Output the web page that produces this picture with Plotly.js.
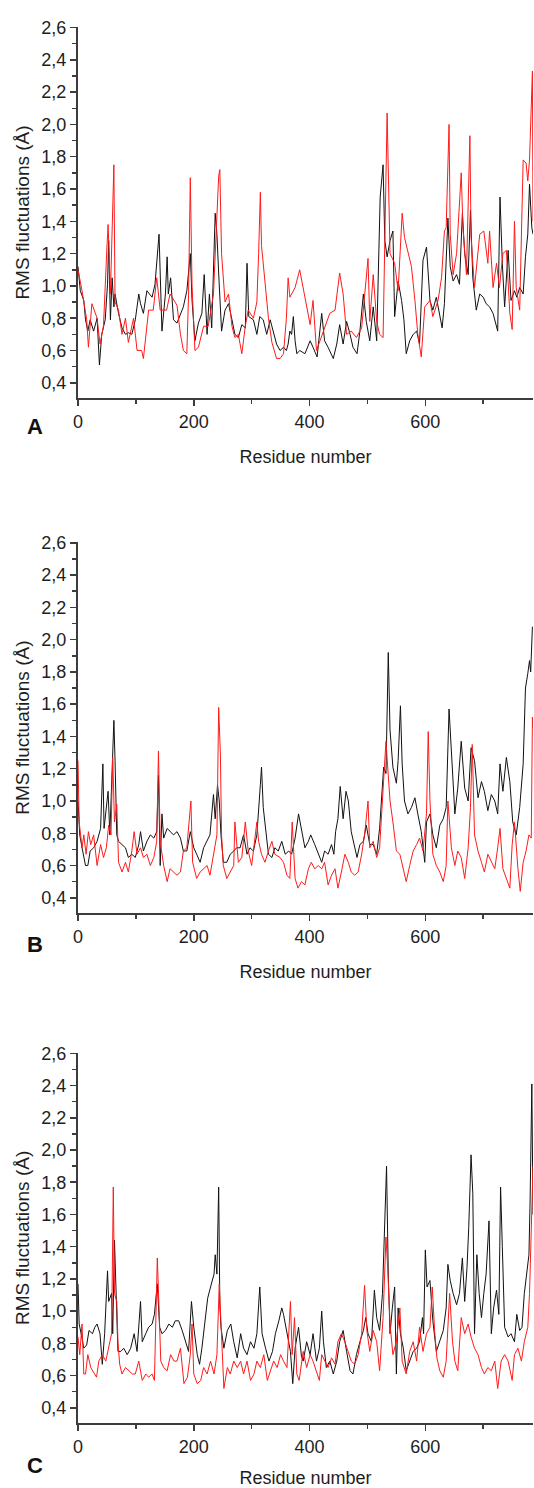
<!DOCTYPE html>
<html>
<head>
<meta charset="utf-8">
<script src="https://cdn.plot.ly/plotly-3.0.1.min.js"></script>
<style>html,body{margin:0;padding:0;background:#ffffff;}#chart{width:534px;height:1488px;}</style>
</head>
<body>
<div id="chart"></div>
<script>
// ---------- DATA ----------
const panelLabels = ['A', 'B', 'C'];
const xAxisTitle = 'Residue number';
const yAxisTitle = 'RMS fluctuations (Å)';

// Panel A
const aBlackX = [0,4,10,13,17,21,27,33,37,41,47,51,53,56,59,62,64,70,76,82,87,93,99,105,108,113,119,128,133,136,140,145,151,154,156,160,165,171,177,182,188,194,197,202,208,214,218,223,227,231,237,240,243,246,248,254,260,266,271,277,283,289,292,295,303,309,314,320,326,332,338,343,349,355,360,363,366,369,372,375,378,383,392,401,406,413,421,426,432,441,447,452,458,464,470,475,482,487,493,498,504,510,516,522,527,530,534,539,544,547,553,559,563,567,573,579,585,590,596,602,608,613,619,625,629,633,639,643,648,654,659,664,668,674,678,682,688,694,700,705,711,717,723,725,729,733,737,743,748,754,758,763,769,773,777,780,784,786];
const aBlackY = [1.12,0.97,0.91,0.79,0.72,0.79,0.72,0.80,0.51,0.70,0.79,1.01,1.28,0.79,1.05,0.87,0.95,0.83,0.74,0.70,0.71,0.70,0.79,0.95,0.89,0.83,0.97,0.93,1.01,1.16,1.32,0.72,0.95,1.18,0.95,1.05,0.79,0.77,0.83,0.87,0.97,1.20,0.91,0.66,0.77,0.83,1.07,0.70,0.95,0.74,1.45,1.32,1.08,0.87,0.72,0.85,0.89,0.79,0.70,0.68,0.76,0.74,1.14,0.81,0.79,0.70,0.81,0.79,0.70,0.79,0.70,0.64,0.60,0.62,0.60,0.64,0.72,0.70,0.81,0.66,0.58,0.60,0.58,0.66,0.62,0.56,0.83,0.66,0.62,0.55,0.64,0.76,0.64,0.78,0.70,0.62,0.58,0.72,0.95,0.78,0.66,0.87,0.66,1.55,1.75,1.28,1.18,1.28,1.34,0.81,1.03,0.91,0.79,0.58,0.66,0.70,0.72,0.64,1.16,1.24,0.91,0.85,0.93,0.81,0.74,0.89,1.42,1.12,1.03,1.07,1.01,1.45,1.20,1.07,1.47,1.05,0.85,0.95,0.93,0.89,0.87,0.83,0.74,0.72,1.55,1.14,0.87,1.22,0.91,0.97,0.93,0.99,0.95,1.18,1.32,1.63,1.36,1.32];
const aRedX = [0,7,15,18,24,33,38,44,50,52,56,62,64,70,76,82,87,96,102,110,113,122,130,136,142,153,159,171,177,182,188,191,194,197,202,208,217,225,234,240,243,245,248,254,260,266,271,277,283,289,294,303,309,312,315,317,323,329,335,343,349,355,360,363,366,375,383,389,395,401,406,412,424,435,444,449,452,458,464,472,481,490,501,504,510,516,521,527,534,539,547,553,560,564,570,576,582,587,593,599,608,613,622,628,633,636,641,643,648,654,662,665,671,677,679,685,694,701,708,711,717,723,728,734,740,746,750,754,757,763,769,774,777,780,785,786];
const aRedY = [1.10,0.97,0.79,0.62,0.89,0.80,0.64,0.75,1.24,1.38,0.95,1.75,0.90,0.85,0.70,0.80,0.65,0.80,0.60,0.60,0.55,0.85,0.85,1.05,0.85,0.85,0.95,0.88,0.70,0.60,0.58,0.95,1.67,1.00,0.60,0.62,0.75,0.75,0.95,1.50,1.68,1.72,1.20,0.90,0.95,0.75,0.68,0.70,0.58,0.75,0.85,0.80,0.90,1.20,1.58,1.25,1.00,0.80,0.65,0.55,0.55,0.58,0.80,1.05,0.93,0.99,1.10,0.99,0.87,0.76,0.91,0.60,0.72,0.83,0.85,0.99,1.08,0.95,0.70,0.72,0.68,0.74,1.17,0.78,1.07,0.78,0.70,0.68,2.07,1.20,1.14,0.97,1.45,1.30,1.20,1.12,0.91,0.70,0.56,0.87,0.91,0.81,0.91,1.05,1.34,1.36,2.00,1.32,1.07,1.20,1.70,1.36,1.07,1.93,1.30,0.99,1.32,1.34,1.14,1.34,0.99,1.14,0.99,1.20,1.22,0.83,0.73,1.40,0.99,0.85,1.78,1.76,1.65,1.78,2.33,1.40];

// Panel B
const bBlackX = [0,3,7,13,17,21,27,33,39,43,45,49,52,55,58,62,64,67,70,76,82,87,93,99,105,108,113,119,125,131,136,139,142,145,148,154,159,165,171,177,182,188,194,200,205,211,217,223,228,234,237,241,244,247,251,257,263,269,274,280,286,292,297,303,309,315,317,320,323,329,335,340,346,352,358,364,369,375,381,386,392,398,402,409,415,421,426,432,438,442,445,449,453,458,463,467,472,478,482,487,493,498,504,510,516,521,525,528,532,534,536,539,544,550,553,557,560,564,570,576,582,587,593,599,602,608,613,619,625,631,636,641,645,651,656,662,668,674,679,685,691,697,702,708,714,720,725,729,734,740,746,751,757,763,769,773,777,780,782,785];
const bBlackY = [1.00,0.79,0.71,0.60,0.60,0.69,0.71,0.75,0.83,1.23,0.83,0.96,1.06,0.79,1.08,1.50,1.25,0.79,0.75,0.73,0.71,0.65,0.67,0.65,0.73,0.81,0.69,0.75,0.79,0.77,0.81,1.16,0.60,0.92,0.77,0.83,0.81,0.79,0.81,0.77,0.69,0.69,0.81,0.71,0.67,0.62,0.71,0.75,0.79,1.04,0.89,1.10,1.00,0.79,0.62,0.62,0.67,0.69,0.71,0.71,0.79,0.67,0.71,0.69,0.79,1.10,1.21,0.96,0.85,0.67,0.65,0.71,0.69,0.75,0.67,0.69,0.67,0.77,0.92,0.83,0.71,0.75,0.79,0.73,0.67,0.62,0.69,0.67,0.73,0.67,0.81,0.89,1.09,0.89,1.06,1.00,0.81,0.71,0.65,0.73,0.75,0.85,0.73,0.73,0.67,0.83,1.04,1.21,1.17,1.54,1.92,1.44,1.21,1.11,1.25,1.59,1.23,1.00,0.92,0.96,1.02,0.92,0.81,0.62,0.87,0.92,0.79,0.71,0.85,0.89,0.96,1.57,1.31,0.92,1.08,1.37,1.08,1.00,1.33,1.25,1.02,1.12,1.06,0.94,1.04,1.00,0.92,1.23,1.06,1.27,1.12,0.87,0.79,0.96,1.23,1.70,1.79,1.87,1.80,2.08];
const bRedX = [0,2,7,10,14,18,22,27,33,39,44,49,53,57,60,63,67,70,76,82,87,93,97,102,108,113,119,125,131,136,139,142,148,154,159,165,171,177,182,188,195,198,205,211,217,223,228,234,240,243,246,248,251,257,263,269,271,277,283,289,294,300,309,312,317,323,329,335,340,349,355,361,366,370,375,380,386,392,398,403,409,415,421,426,432,438,444,449,455,461,467,472,478,484,490,495,501,504,510,516,521,527,532,536,539,544,550,556,562,567,573,579,585,590,596,602,605,608,613,619,625,631,636,639,645,651,656,662,668,674,678,681,685,691,697,702,708,714,720,725,729,734,740,746,750,754,760,764,769,774,779,783,785,786];
const bRedY = [1.25,0.87,0.71,0.79,0.67,0.81,0.73,0.79,0.60,0.73,0.65,0.71,0.85,0.79,1.27,0.87,0.98,0.62,0.56,0.62,0.56,0.69,0.81,0.67,0.71,0.65,0.67,0.60,0.65,0.75,1.31,0.75,0.60,0.50,0.58,0.56,0.54,0.56,0.69,0.71,1.00,0.62,0.52,0.56,0.58,0.60,0.54,0.67,0.79,1.58,1.29,0.79,0.60,0.52,0.56,0.60,0.87,0.62,0.65,0.87,0.69,0.60,0.87,0.75,0.67,0.62,0.69,0.75,0.67,0.65,0.62,0.54,0.52,0.87,0.52,0.46,0.50,0.48,0.58,0.62,0.58,0.60,0.58,0.62,0.48,0.54,0.58,0.46,0.56,0.67,0.62,0.56,0.54,0.56,0.67,0.79,1.00,0.71,0.75,0.65,0.71,1.08,1.37,1.16,1.00,0.87,0.69,0.67,0.58,0.50,0.60,0.69,0.73,0.77,0.69,0.92,1.43,1.00,0.67,0.60,0.56,0.50,0.60,1.00,0.71,0.60,0.69,0.65,0.52,0.71,0.96,1.35,0.79,0.69,0.62,0.56,0.67,0.62,0.58,0.71,0.83,0.58,0.52,0.46,0.73,0.87,0.58,0.44,0.62,0.69,0.79,0.77,1.52,1.45];

// Panel C
const cBlackX = [0,2,6,10,15,19,25,29,33,38,42,46,51,53,58,60,63,67,69,74,79,85,91,97,102,108,111,117,122,128,132,137,141,145,151,157,163,168,174,180,186,191,196,200,206,210,214,220,224,229,235,237,240,243,245,247,252,258,264,269,275,281,286,292,298,304,309,314,318,324,330,336,341,347,352,355,361,367,371,375,381,386,389,395,401,406,412,417,421,424,429,435,441,447,452,458,464,470,475,481,487,493,497,501,507,512,516,521,526,530,533,536,539,543,547,550,553,557,562,567,573,579,585,590,595,597,600,603,608,613,619,625,631,636,639,643,648,654,659,664,668,672,675,679,682,685,689,693,697,701,705,710,714,718,723,727,730,733,737,743,748,754,758,763,767,771,775,779,781,784,786];
const cBlackY = [1.17,0.92,0.85,0.77,0.79,0.88,0.86,0.90,0.92,0.86,0.67,0.86,1.25,1.06,1.11,0.86,1.44,0.86,0.75,0.75,0.77,0.73,0.77,0.86,0.75,1.06,0.81,0.86,0.90,0.92,0.98,1.17,0.90,0.86,0.88,0.92,0.90,0.94,0.94,0.88,0.81,0.75,1.06,0.90,0.73,0.67,0.77,0.96,1.08,1.15,1.23,1.35,1.23,1.77,1.04,0.90,0.77,0.88,0.92,0.81,0.71,0.86,0.77,0.73,0.81,0.77,0.86,1.15,0.86,0.77,0.69,0.75,0.86,0.94,1.02,0.98,0.86,0.75,0.55,0.77,0.90,0.72,0.69,0.81,0.73,0.86,0.69,0.77,1.00,0.81,0.65,0.69,0.61,0.69,0.81,0.88,0.75,0.63,0.61,0.73,0.81,0.88,0.96,0.86,0.81,1.13,0.96,0.88,1.11,1.56,1.90,1.23,0.86,1.02,1.15,0.61,1.02,0.86,0.77,0.63,0.69,0.75,0.77,0.81,0.96,0.86,1.38,1.15,1.19,0.94,0.75,0.81,0.88,1.02,1.29,1.19,1.11,1.04,1.11,1.33,1.06,1.27,1.52,1.97,1.73,0.86,1.35,1.11,0.96,1.11,1.23,1.56,0.86,1.02,1.13,0.98,1.77,1.40,0.90,0.84,0.86,0.81,0.98,0.88,0.90,1.11,1.25,1.35,1.69,2.41,1.60];
const cRedX = [0,3,7,10,13,17,22,28,32,36,42,48,53,58,61,63,67,69,72,76,82,88,94,99,105,111,117,122,128,132,137,140,143,148,154,160,166,171,177,183,189,194,197,200,206,212,217,223,229,235,240,244,247,252,258,263,269,275,281,286,292,298,304,309,315,321,327,333,338,344,350,355,361,367,370,374,378,382,386,389,395,401,406,412,417,421,426,432,438,444,449,455,461,467,472,478,484,490,495,499,504,510,516,521,527,532,535,539,544,550,556,560,567,573,579,585,590,596,602,608,612,616,620,625,631,636,642,647,651,656,662,668,674,679,685,691,697,702,708,714,720,725,731,737,743,750,754,760,766,771,777,780,783,786];
const cRedY = [0.84,0.73,0.92,0.61,0.61,0.73,0.65,0.61,0.59,0.69,0.73,0.69,0.77,0.86,1.77,1.11,1.06,0.81,0.67,0.61,0.65,0.63,0.61,0.61,0.69,0.57,0.61,0.59,0.61,0.57,1.33,1.02,0.69,0.65,0.63,0.73,0.69,0.69,0.77,0.55,0.59,0.73,0.92,0.61,0.55,0.57,0.65,0.61,0.69,0.61,0.73,1.17,0.92,0.52,0.65,0.61,0.69,0.65,0.69,0.61,0.69,0.57,0.61,0.69,0.65,0.73,0.57,0.63,0.69,0.65,0.73,0.69,0.65,1.06,0.73,0.96,0.61,0.57,0.69,0.75,0.65,0.73,0.69,0.63,0.57,0.73,0.69,0.65,0.71,0.67,0.81,0.86,0.81,0.75,0.69,0.67,0.73,0.86,1.16,0.88,0.75,0.88,0.81,0.63,0.96,1.46,1.27,0.92,0.73,0.81,1.02,0.69,0.61,0.75,0.81,0.69,0.90,0.75,0.86,0.90,1.15,0.88,0.71,0.63,0.59,0.69,1.11,0.81,0.69,0.63,0.96,0.86,0.92,0.84,0.77,0.73,0.65,0.61,0.65,0.63,0.69,0.52,0.69,0.73,0.69,0.57,0.73,0.77,0.69,0.81,0.90,1.11,1.52,1.90];

// ---------- LAYOUT (pixel geometry of the three panels) ----------
const W = 534, H = 1488;
const ML = 78, MR = 1;
const panelPx = [ // [top of y-axis, x-axis line] in page pixels
  [26.7, 398.3],
  [542.0, 913.3],
  [1052.5, 1423.3]
];
const labelPx = [[35, 426.7], [35, 944.3], [35, 1465]];
const plotW = W - ML - MR;

const FONT = 'Liberation Sans, Arial, Helvetica, sans-serif';
const AXC = '#3c3c3c';
const TXT = '#1e1e1e';

const series = [
  [aBlackX, aBlackY, aRedX, aRedY],
  [bBlackX, bBlackY, bRedX, bRedY],
  [cBlackX, cBlackY, cRedX, cRedY]
];

const traces = [];
const layout = {
  width: W, height: H,
  margin: {l: ML, r: MR, t: 0, b: 0, pad: 0},
  paper_bgcolor: '#ffffff', plot_bgcolor: '#ffffff',
  showlegend: false,
  separators: ',.',
  font: {family: FONT, color: TXT, size: 18},
  annotations: []
};

series.forEach((s, i) => {
  const n = i === 0 ? '' : String(i + 1);
  const xa = 'x' + n, ya = 'y' + n;
  traces.push({x: s[0], y: s[1], xaxis: xa, yaxis: ya, type: 'scatter', mode: 'lines',
    line: {color: '#111111', width: 1}, hoverinfo: 'skip'});
  traces.push({x: s[2], y: s[3], xaxis: xa, yaxis: ya, type: 'scatter', mode: 'lines',
    line: {color: '#ff1a1a', width: 1}, hoverinfo: 'skip'});

  const [top, bot] = panelPx[i];
  layout['xaxis' + n] = {
    anchor: ya, domain: [0, 1], range: [0, 786], autorange: false,
    showline: true, linecolor: AXC, linewidth: 2,
    ticks: 'outside', ticklen: 6, tickwidth: 1.5, tickcolor: AXC,
    tickmode: 'linear', tick0: 0, dtick: 200,
    minor: {ticks: 'outside', ticklen: 4, tickwidth: 1.5, tickcolor: AXC, tickmode: 'linear', tick0: 0, dtick: 100, showgrid: false},
    showgrid: false, zeroline: false,
    tickfont: {family: FONT, size: 18, color: TXT},
    title: {text: xAxisTitle, font: {family: FONT, size: 18, color: TXT}},
    automargin: false
  };
  layout['yaxis' + n] = {
    anchor: xa, domain: [1 - bot / H, 1 - top / H], range: [0.304, 2.605], autorange: false,
    showline: true, linecolor: AXC, linewidth: 2,
    ticks: 'outside', ticklen: 6, tickwidth: 1.5, tickcolor: AXC,
    tickmode: 'linear', tick0: 0.4, dtick: 0.2, tickformat: '.1f',
    minor: {ticks: 'outside', ticklen: 4, tickwidth: 1.5, tickcolor: AXC, tickmode: 'linear', tick0: 0.3, dtick: 0.1, showgrid: false},
    showgrid: false, zeroline: false,
    tickfont: {family: FONT, size: 18, color: TXT},
    title: {text: yAxisTitle, font: {family: FONT, size: 19, color: TXT}},
    automargin: false
  };
  layout.annotations.push({
    text: panelLabels[i], showarrow: false,
    xref: 'paper', yref: 'paper',
    x: (labelPx[i][0] - ML) / plotW, y: 1 - labelPx[i][1] / H,
    xanchor: 'center', yanchor: 'middle',
    font: {family: FONT, size: 22, color: '#111111', weight: 'bold'}
  });
});

Plotly.newPlot('chart', traces, layout, {displayModeBar: false, staticPlot: true});
</script>
</body>
</html>
